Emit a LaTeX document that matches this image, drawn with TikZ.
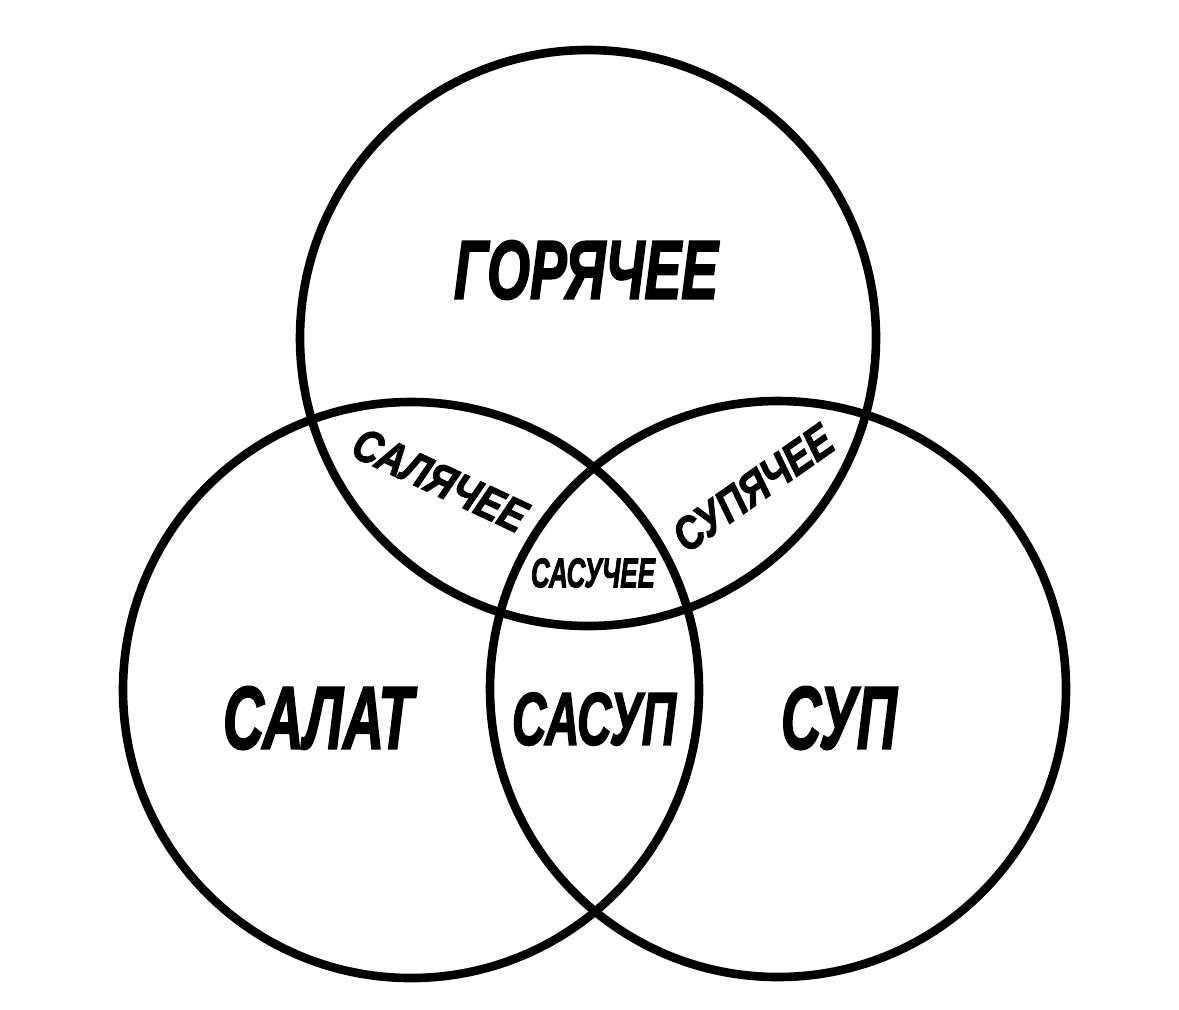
\documentclass[tikz,border=0pt]{standalone}
\usepackage{fontspec}
\setmainfont{Liberation Sans}[BoldItalicFeatures={FakeBold=2.5}]
\usepackage{tikz}

\newcommand{\word}[3]{\resizebox{#1}{#2}{\bfseries\itshape #3}}

\begin{document}
\begin{tikzpicture}[
    set name/.style={inner sep=0pt},
    ring/.style={line width=0.086cm}]
  \useasboundingbox (0,0) rectangle (11.79,10.09);
  \newdimen\R
  \R=2.88cm

  \coordinate (hot) at (5.88,6.71);
  \coordinate (salad) at (4.11,3.19);
  \coordinate (soup) at (7.78,3.20);

  \foreach \c in {hot,salad,soup} {
    \draw[ring] (\c) circle [radius=\R];
  };

  \node[set name] (hotname) at (5.86,7.39) {\word{2.64cm}{0.58cm}{ГОРЯЧЕЕ}};
  \node[set name] (saladname) at (3.18,2.91) {\word{1.90cm}{0.62cm}{САЛАТ}};
  \node[set name] (soupname) at (8.39,2.91) {\word{1.16cm}{0.62cm}{СУП}};
  \node[set name] (saladsoup) at (5.94,2.90) {\word{1.64cm}{0.52cm}{САСУП}};
  \node[set name] (all) at (5.93,4.36) {\word{1.24cm}{0.29cm}{САСУЧЕЕ}};
  \node[set name, rotate=-25] (saladhot) at (4.40,5.29) {\word{1.86cm}{0.32cm}{САЛЯЧЕЕ}};
  \node[set name, rotate=35] (souphot) at (7.53,5.21) {\word{1.84cm}{0.32cm}{СУПЯЧЕЕ}};
\end{tikzpicture}
\end{document}
